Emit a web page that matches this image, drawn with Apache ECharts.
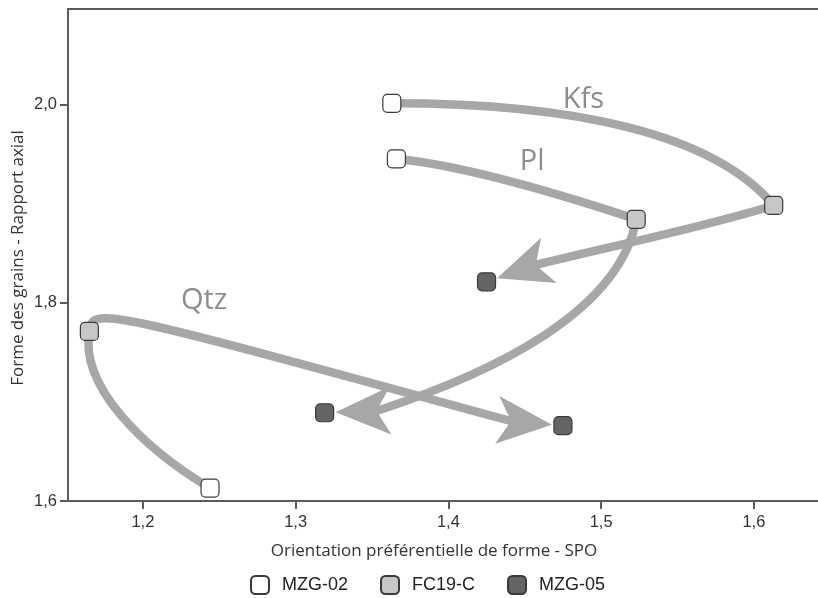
<!DOCTYPE html>
<html>
<head>
<meta charset="utf-8">
<script src="https://cdn.jsdelivr.net/npm/echarts@6/dist/echarts.min.js"></script>
<style>
  html, body { margin: 0; padding: 0; background: #ffffff; }
  #chart { width: 818px; height: 598px; }
</style>
</head>
<body>
<div id="chart"></div>
<script>
// Minerals and samples
const minerals = ['Kfs', 'Pl', 'Qtz'];
const sampleNames = ['MZG-02', 'FC19-C', 'MZG-05'];

// Tick values
const xTicks = [1.2, 1.3, 1.4, 1.5, 1.6];
const yTicks = [1.6, 1.8, 2.0];

// Shape preferred orientation (SPO) and axial ratio, ordered as minerals (Kfs, Pl, Qtz)
const spoMZG02   = [1.363, 1.366, 1.244];
const ratioMZG02 = [2.001, 1.945, 1.613];
const spoFC19C   = [1.613, 1.523, 1.165];
const ratioFC19C = [1.898, 1.884, 1.771];
const spoMZG05   = [1.425, 1.319, 1.475];
const ratioMZG05 = [1.821, 1.689, 1.676];

// ---- styling ----
const LINE = '#a6a7a9';
const AXIS = '#5b5b5b';
const TEXT = '#333333';
const sampleColors = ['#ffffff', '#c6c7c9', '#636466'];

// Curve handles per mineral, in screen pixels:
// [start angle (deg), start handle length, arrival angle (deg), arrival handle length]
// a: MZG-02 -> FC19-C, b: FC19-C -> MZG-05 (ends with an arrow)
const curveStyle = {
  Kfs: { a: [0, 180, 50, 95],     b: [163, 80, 166, 80],  arrow: 161, label: ['a', 0.40, -3, -19] },
  Pl:  { a: [5.7, 56, 18.3, 109], b: [100, 93, 162, 125], arrow: 178, label: ['a', 0.60, 9, -23] },
  Qtz: { a: [211, 80, -80, 55],   b: [-80, 25, 15.3, 435], arrow: 5,  label: ['b', 0.65, -3, -38] }
};
const ARROW_GAP = 11, ARROW_LEN = 55, ARROW_NOTCH = 41, ARROW_HALF = 24;

const rad = d => d * Math.PI / 180;
const unit = d => [Math.cos(rad(d)), Math.sin(rad(d))];

function cubic(p0, p3, s) {
  const d0 = unit(s[0]), d1 = unit(s[2]);
  return {
    x1: p0[0], y1: p0[1],
    cpx1: p0[0] + d0[0] * s[1], cpy1: p0[1] + d0[1] * s[1],
    cpx2: p3[0] - d1[0] * s[3], cpy2: p3[1] - d1[1] * s[3],
    x2: p3[0], y2: p3[1]
  };
}
function pointOn(c, t) {
  const u = 1 - t;
  const k0 = u * u * u, k1 = 3 * u * u * t, k2 = 3 * u * t * t, k3 = t * t * t;
  return [
    k0 * c.x1 + k1 * c.cpx1 + k2 * c.cpx2 + k3 * c.x2,
    k0 * c.y1 + k1 * c.cpy1 + k2 * c.cpy2 + k3 * c.y2
  ];
}

function renderPath(params, api) {
  const name = minerals[params.dataIndex];
  const st = curveStyle[name];
  const p02 = api.coord([api.value(0), api.value(1)]);
  const pFC = api.coord([api.value(2), api.value(3)]);
  const p05 = api.coord([api.value(4), api.value(5)]);

  const d = unit(st.arrow);
  const n = [-d[1], d[0]];
  const tip = [p05[0] - d[0] * ARROW_GAP, p05[1] - d[1] * ARROW_GAP];
  const notch = [tip[0] - d[0] * ARROW_NOTCH, tip[1] - d[1] * ARROW_NOTCH];
  const base = [tip[0] - d[0] * ARROW_LEN, tip[1] - d[1] * ARROW_LEN];
  const barb1 = [base[0] + n[0] * ARROW_HALF, base[1] + n[1] * ARROW_HALF];
  const barb2 = [base[0] - n[0] * ARROW_HALF, base[1] - n[1] * ARROW_HALF];

  const segA = cubic(p02, pFC, st.a);
  const segB = cubic(pFC, notch, st.b);
  const lineStyle = { fill: 'none', stroke: LINE, lineWidth: 8.5 };

  const lb = st.label;
  const lp = pointOn(lb[0] === 'a' ? segA : segB, lb[1]);

  return {
    type: 'group',
    children: [
      { type: 'bezierCurve', shape: segA, style: lineStyle },
      { type: 'bezierCurve', shape: segB, style: lineStyle },
      { type: 'polygon', shape: { points: [tip, barb1, notch, barb2] }, style: { fill: LINE, stroke: null } },
      {
        type: 'text', x: lp[0] + lb[2], y: lp[1] + lb[3],
        style: { text: name, fill: '#8c8d8f', font: '29px "Open Sans"', align: 'center', verticalAlign: 'middle' }
      }
    ]
  };
}

const fmt = v => v.toFixed(1).replace('.', ',');

const sampleX = [spoMZG02, spoFC19C, spoMZG05];
const sampleY = [ratioMZG02, ratioFC19C, ratioMZG05];

const scatterSeries = sampleNames.map((s, k) => ({
  name: s,
  type: 'scatter',
  symbol: 'roundRect',
  symbolSize: 18,
  z: 5,
  itemStyle: { color: sampleColors[k], borderColor: '#3a3a3a', borderWidth: 1.2, opacity: 1 },
  data: minerals.map((m, i) => [sampleX[k][i], sampleY[k][i]])
}));

const chart = echarts.init(document.getElementById('chart'), null, { renderer: 'canvas' });
chart.setOption({
  animation: false,
  backgroundColor: '#ffffff',
  grid: { left: 68, right: 0, top: 9, bottom: 97 },
  xAxis: [
    {
      type: 'value', min: 1.151, max: 1.642, position: 'bottom',
      axisLine: { show: true, onZero: false, lineStyle: { color: AXIS, width: 2 } },
      axisTick: { show: true, length: 8, customValues: xTicks, lineStyle: { color: AXIS, width: 2 } },
      axisLabel: { customValues: xTicks, formatter: fmt, fontSize: 16.5, color: TEXT, margin: 13, fontFamily: '"Liberation Sans", Arial, sans-serif' },
      splitLine: { show: false }
    },
    {
      type: 'value', min: 1.151, max: 1.642, position: 'top',
      axisLine: { show: true, onZero: false, lineStyle: { color: AXIS, width: 2 } },
      axisTick: { show: false }, axisLabel: { show: false }, splitLine: { show: false }
    }
  ],
  yAxis: {
    type: 'value', min: 1.6, max: 2.0961,
    axisLine: { show: true, onZero: false, lineStyle: { color: AXIS, width: 2 } },
    axisTick: { show: true, length: 8, customValues: yTicks, lineStyle: { color: AXIS, width: 2 } },
    axisLabel: { customValues: yTicks, formatter: fmt, fontSize: 16.5, color: TEXT, margin: 11, fontFamily: '"Liberation Sans", Arial, sans-serif' },
    splitLine: { show: false }
  },
  legend: {
    data: sampleNames,
    left: 250, top: 575, padding: 0,
    itemWidth: 18, itemHeight: 18, itemGap: 32,
    icon: 'roundRect',
    textStyle: { fontSize: 18, color: '#222', fontFamily: '"Liberation Sans", Arial, sans-serif', padding: [0, 0, 0, 8] }
  },
  graphic: [
    {
      type: 'text', x: 434, y: 551,
      style: { text: 'Orientation préférentielle de forme - SPO', font: '17px "Open Sans"', fill: TEXT, align: 'center', verticalAlign: 'middle' }
    },
    {
      type: 'text', x: 18, y: 258, rotation: Math.PI / 2,
      style: { text: 'Forme des grains - Rapport axial', font: '17px "Open Sans"', fill: TEXT, align: 'center', verticalAlign: 'middle' }
    }
  ],
  series: [
    {
      type: 'custom',
      silent: true,
      z: 2,
      coordinateSystem: 'cartesian2d',
      renderItem: renderPath,
      encode: { x: [0, 2, 4], y: [1, 3, 5] },
      data: minerals.map((m, i) => [spoMZG02[i], ratioMZG02[i], spoFC19C[i], ratioFC19C[i], spoMZG05[i], ratioMZG05[i]])
    }
  ].concat(scatterSeries)
});
</script>
</body>
</html>
